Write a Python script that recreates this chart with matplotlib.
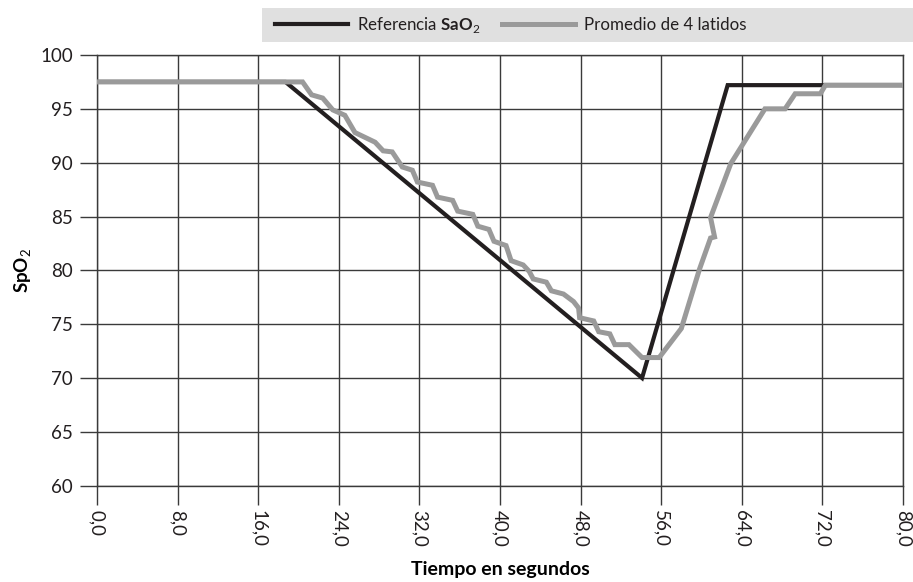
import matplotlib
matplotlib.use("Agg")
import matplotlib.pyplot as plt
from matplotlib.patches import Rectangle

plt.rcParams["font.family"] = ["Lato", "DejaVu Sans"]
plt.rcParams["mathtext.fontset"] = "custom"
plt.rcParams["mathtext.rm"] = "Lato"
plt.rcParams["mathtext.bf"] = "Lato:bold"
plt.rcParams["text.color"] = "#231f20"
plt.rcParams["xtick.labelcolor"] = "#231f20"
plt.rcParams["ytick.labelcolor"] = "#231f20"

# reference SaO2 (black)
ref_t = [0.0, 18.7, 54.1, 62.6, 80.0]
ref_v = [97.5, 97.5, 70.0, 97.2, 97.2]

# 4-beat average (gray)
avg_t = [0.0, 20.4, 21.3, 22.4, 23.4, 24.6, 25.6, 27.6, 28.4, 29.3, 30.3,
         31.3, 31.8, 33.3, 33.8, 35.3, 35.8, 37.3, 37.8, 38.9, 39.4, 40.6,
         41.1, 42.3, 42.9, 43.3, 44.6, 45.1, 46.3, 47.3, 47.8, 47.9, 49.3,
         49.8, 50.9, 51.4, 52.8, 54.1, 55.8, 58.0, 59.8, 60.9, 61.3, 60.9,
         62.9, 64.3, 66.3, 68.3, 69.3, 71.8, 72.3, 80.0]
avg_v = [97.5, 97.5, 96.3, 96.0, 94.9, 94.4, 92.8, 91.9, 91.1, 91.0, 89.6,
         89.3, 88.2, 87.9, 86.8, 86.5, 85.5, 85.2, 84.1, 83.8, 82.7, 82.3,
         80.9, 80.5, 79.9, 79.2, 78.9, 78.1, 77.8, 77.1, 76.5, 75.6, 75.3,
         74.3, 74.1, 73.1, 73.1, 71.9, 71.9, 74.6, 80.1, 83.0, 83.1, 84.9,
         89.9, 92.0, 95.0, 95.0, 96.4, 96.4, 97.2, 97.2]

xticks = [0, 8, 16, 24, 32, 40, 48, 56, 64, 72, 80]
xticklabels = ["0,0", "8,0", "16,0", "24,0", "32,0", "40,0", "48,0",
               "56,0", "64,0", "72,0", "80,0"]
yticks = [60, 65, 70, 75, 80, 85, 90, 95, 100]

black = "#231f20"
gray = "#9a9a9a"
gridc = "#3a3a3a"

fig = plt.figure(figsize=(9.13, 5.82), dpi=100)
ax = fig.add_axes([0.1063, 0.1655, 0.8827, 0.7400])

ax.plot(ref_t, ref_v, color=black, lw=3.0, solid_joinstyle="miter",
        label=r"Referencia $\mathbf{SaO}_{\mathrm{2}}$", zorder=3)
ax.plot(avg_t, avg_v, color=gray, lw=3.6, solid_joinstyle="miter",
        label="Promedio de 4 latidos", zorder=4)

ax.set_xlim(0, 80)
ax.set_ylim(60, 100)
ax.set_xticks(xticks)
ax.set_xticklabels(xticklabels, rotation=-90, fontsize=13.5)
ax.set_yticks(yticks)
ax.tick_params(axis="y", labelsize=13.5, length=12.5, width=1.0, color=gridc, pad=5)
ax.tick_params(axis="x", length=13.5, width=1.0, color=gridc, pad=4)
ax.grid(True, color=gridc, lw=1.0, zorder=1)
ax.set_axisbelow(True)
for s in ax.spines.values():
    s.set_color(gridc)
    s.set_linewidth(1.0)

ax.set_xlabel("Tiempo en segundos", fontsize=14, fontweight="bold", labelpad=10)
ax.set_ylabel(r"$\mathbf{SpO}_{\mathrm{2}}$", fontsize=13.5, labelpad=4)

fig.patches.append(Rectangle((262 / 913, 1 - 42 / 582), 651 / 913, 34 / 582,
                             transform=fig.transFigure, facecolor="#e0e0e0",
                             edgecolor="none", zorder=0))
leg = fig.legend(loc="center left", bbox_to_anchor=(275 / 913, 1 - 25 / 582),
                 ncol=2, frameon=False, fontsize=12.2, handlelength=4.3,
                 handletextpad=0.55, columnspacing=1.25, borderaxespad=0,
                 borderpad=0)

fig.savefig("out.png", dpi=100)
